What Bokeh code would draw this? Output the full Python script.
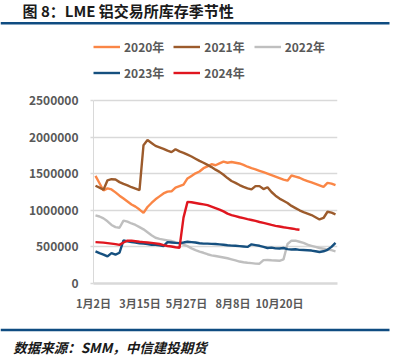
from bokeh.plotting import figure
from bokeh.models import Range1d, FixedTicker, Legend, LegendItem, BasicTickFormatter
from bokeh.layouts import column
from bokeh.core.properties import value
from bokeh.embed import file_html
from bokeh.resources import INLINE

# ---------------- data ----------------
idx = list(range(61))
x_tick_pos = [-0.5, 11.125, 22.75, 34.375, 46.0]
x_tick_labels = ["1月2日", "3月15日", "5月27日", "8月8日", "10月20日"]
y_ticks = [0, 500000, 1000000, 1500000, 2000000, 2500000]

s2020 = [1470000, 1370000, 1270000, 1300000, 1285000, 1245000, 1200000, 1160000, 1120000, 1080000,
         1050000, 1010000, 965000, 1045000, 1100000, 1150000, 1190000, 1230000, 1255000, 1260000,
         1310000, 1330000, 1350000, 1435000, 1470000, 1505000, 1530000, 1575000, 1600000, 1630000,
         1615000, 1640000, 1665000, 1650000, 1660000, 1650000, 1640000, 1620000, 1595000, 1575000,
         1560000, 1540000, 1520000, 1500000, 1480000, 1460000, 1440000, 1420000, 1405000, 1475000,
         1460000, 1445000, 1420000, 1400000, 1380000, 1360000, 1340000, 1320000, 1375000, 1365000,
         1345000]
s2021 = [1335000, 1310000, 1280000, 1410000, 1425000, 1420000, 1385000, 1360000, 1340000, 1315000,
         1295000, 1275000, 1890000, 1960000, 1920000, 1880000, 1860000, 1840000, 1815000, 1795000,
         1835000, 1805000, 1785000, 1760000, 1735000, 1705000, 1675000, 1650000, 1620000, 1590000,
         1555000, 1525000, 1485000, 1440000, 1400000, 1375000, 1345000, 1320000, 1300000, 1285000,
         1330000, 1330000, 1290000, 1315000, 1250000, 1200000, 1160000, 1130000, 1100000, 1060000,
         1030000, 1000000, 975000, 955000, 935000, 905000, 875000, 895000, 980000, 968000,
         945000]
s2022 = [930000, 915000, 890000, 850000, 800000, 770000, 762000, 860000, 845000, 820000,
         800000, 770000, 740000, 700000, 660000, 625000, 610000, 600000, 590000, 580000,
         565000, 550000, 530000, 510000, 480000, 455000, 435000, 420000, 400000, 385000,
         375000, 365000, 355000, 345000, 330000, 315000, 300000, 290000, 283000, 278000,
         272000, 270000, 320000, 322000, 318000, 315000, 310000, 330000, 540000, 585000,
         585000, 570000, 555000, 530000, 515000, 500000, 485000, 475000, 465000, 455000,
         440000]
s2023 = [440000, 415000, 395000, 370000, 415000, 395000, 420000, 590000, 575000, 565000,
         560000, 550000, 545000, 540000, 530000, 528000, 520000, 510000, 565000, 560000,
         555000, 552000, 560000, 570000, 565000, 560000, 550000, 545000, 545000, 542000,
         540000, 535000, 530000, 522000, 518000, 515000, 510000, 505000, 500000, 535000,
         525000, 515000, 500000, 485000, 490000, 480000, 478000, 485000, 470000, 465000,
         468000, 460000, 458000, 455000, 450000, 440000, 430000, 440000, 460000, 500000,
         555000]
s2024 = [565000, 562000, 558000, 552000, 545000, 538000, 528000, 560000, 585000, 585000,
         578000, 570000, 565000, 560000, 555000, 548000, 540000, 525000, 512000, 505000,
         495000, 488000, 900000, 1115000, 1110000, 1100000, 1090000, 1080000, 1070000, 1050000,
         1030000, 1010000, 985000, 955000, 935000, 920000, 905000, 893000, 880000, 868000,
         855000, 840000, 828000, 815000, 800000, 788000, 778000, 768000, 760000, 752000,
         742000, 735000]

series_names = ["2020年", "2021年", "2022年", "2023年", "2024年"]
series_vals = [s2020, s2021, s2022, s2023, s2024]
series_colors = ["#FA8646", "#9C5B2C", "#BFBFBF", "#16507F", "#E0161F"]

W = 390
CJK = "Noto Sans CJK SC"
BLUE_RULE = "#0F4C81"
GRID = "#D9D9D9"


def blank(height):
    f = figure(width=W, height=height, output_backend="svg", toolbar_location=None,
               x_range=Range1d(0, W), y_range=Range1d(0, height), min_border=0,
               x_axis_type=None, y_axis_type=None, frame_align=False)
    f.grid.visible = False
    f.outline_line_color = None
    f.title.visible = False
    return f


# ---------------- header (title + rule) ----------------
hH = 28
head = blank(hH)
head.text(x=[22], y=[hH - 9.5], text=["图 8：LME 铝交易所库存季节性"], text_font=value(CJK),
          text_font_size="15px", text_font_style="bold", text_color="#1a1a1a",
          text_baseline="middle", text_align="left")
head.line(x=[0, 389], y=[hH - 22.7, hH - 22.7], line_color=BLUE_RULE, line_width=2.6)

# ---------------- main chart ----------------
mH = 290
plot_top_px = 72          # distance from the top of this figure to the 2 500 000 gridline
frame_bottom_px = 255     # distance from the top of this figure to the 0 line
y_max = y_ticks[-1]
y_view_top = y_max * frame_bottom_px / (frame_bottom_px - plot_top_px)  # room above for the legend

p = figure(width=W, height=mH, output_backend="svg", toolbar_location=None,
           x_range=Range1d(-0.5, 60.5), y_range=Range1d(0, y_view_top),
           min_border_left=93, min_border_right=53, min_border_top=0,
           min_border_bottom=mH - frame_bottom_px, frame_align=False)
p.outline_line_color = None
p.title.visible = False

renderers = []
for name, vals, col in zip(series_names, series_vals, series_colors):
    r = p.line(x=idx[:len(vals)], y=vals, line_color=col, line_width=2.4)
    renderers.append(r)

p.yaxis.ticker = FixedTicker(ticks=y_ticks)
p.yaxis.formatter = BasicTickFormatter(use_scientific=False)
p.yaxis.bounds = (0, y_max)
p.xaxis.ticker = FixedTicker(ticks=x_tick_pos)
p.xaxis.major_label_overrides = {k: v for k, v in zip(x_tick_pos, x_tick_labels)}
for ax in (p.xaxis[0], p.yaxis[0]):
    ax.minor_tick_line_color = None
    ax.major_label_text_font = CJK
    ax.major_label_text_font_style = "bold"
    ax.major_label_text_color = "#595959"
p.xaxis.major_tick_line_color = None
p.yaxis.major_tick_line_color = GRID
p.yaxis.major_tick_line_width = 1.3
p.yaxis.major_tick_in = 0
p.yaxis.major_tick_out = 3
p.yaxis.major_label_text_font_size = "12px"
p.xaxis.major_label_text_font_size = "11px"
p.yaxis.axis_line_color = GRID
p.yaxis.axis_line_width = 1
p.yaxis.major_label_standoff = 12
p.xaxis.axis_line_color = GRID
p.xaxis.axis_line_width = 2.5
p.xaxis.major_label_standoff = 5
p.xgrid.grid_line_color = None
p.ygrid.grid_line_color = GRID
p.ygrid.grid_line_width = 1.3

legend = Legend(items=[LegendItem(label=n, renderers=[r]) for n, r in zip(series_names, renderers)],
                orientation="horizontal", ncols=3, location=(0, frame_bottom_px - 52.5),
                glyph_width=27, glyph_height=15, label_height=15, label_standoff=4, spacing=9,
                padding=0, margin=0, border_line_color=None, background_fill_alpha=0,
                label_text_font=CJK, label_text_font_style="bold", label_text_color="#595959",
                label_text_font_size="12px")
p.add_layout(legend, "center")

# ---------------- footer (rule + source) ----------------
fH = 42
foot = blank(fH)
foot.line(x=[0, 389], y=[fH - 11.5, fH - 11.5], line_color=BLUE_RULE, line_width=2.6)
foot.text(x=[12.7], y=[fH - 28], text=["数据来源：SMM，中信建投期货"], text_font=value(CJK),
          text_font_size="13.5px", text_font_style="bold italic", text_color="#1a1a1a",
          text_baseline="middle", text_align="left")

layout = column(head, p, foot, spacing=0)
open("out.html", "w").write(file_html(layout, INLINE))
